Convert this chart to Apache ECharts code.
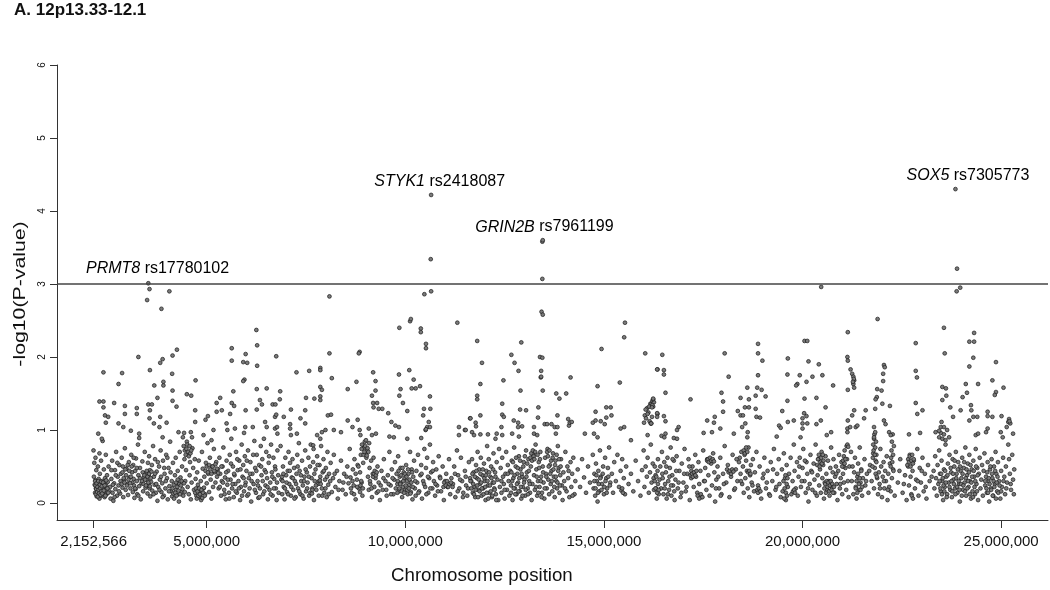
<!DOCTYPE html>
<html>
<head>
<meta charset="utf-8" />
<title>12p13.33-12.1</title>
<script src="https://cdn.jsdelivr.net/npm/echarts@6/dist/echarts.min.js"></script>
<style>
  html, body { margin: 0; padding: 0; background: #fff; }
  #main { width: 1050px; height: 590px; }
</style>
</head>
<body>
<div id="main"></div>
<script>
// positions in Mb, values are -log10(P)
var xTicks = [2.152566, 5, 10, 15, 20, 25];
var yTicks = [0, 1, 2, 3, 4, 5, 6];
var threshold = 3;

// named hits
var hits = [
  { gene: 'PRMT8', snp: 'rs17780102', pos: 1.96, y: 3.21 },
  { gene: 'STYK1', snp: 'rs2418087', pos: 9.22, y: 4.40 },
  { gene: 'GRIN2B', snp: 'rs7961199', pos: 11.76, y: 3.78 },
  { gene: 'SOX5', snp: 'rs7305773', pos: 22.62, y: 4.49 }
];

// top points near the hits
var peaks = [[3.53,3.01],[3.56,2.93],[4.06,2.90],[3.50,2.78],[3.86,2.66],
  [10.65,4.22],[10.64,3.34],[10.65,2.90],[10.48,2.86],[8.09,2.83],[10.14,2.52],
  [13.45,3.58],[13.46,3.60],[13.45,3.07],[13.43,2.62],[13.46,2.58],
  [23.85,4.30],[23.89,3.21],[23.97,2.95],[23.88,2.90],[20.47,2.96],[21.89,2.52]];

// upper scatter (about 0.85 to 2.4)
var upper1 = [[6.25,2.37],[6.27,2.16],[6.27,1.88],[4.25,2.10],[4.14,2.02],[3.89,1.97],[3.83,1.92],[3.28,2.00],[3.57,1.82],[4.13,1.77],[2.40,1.79],[2.87,1.78],[2.78,1.63],[5.63,2.12],[5.63,1.95],[5.98,2.04],[5.92,1.93],[6.02,1.92],[6.75,2.01],[5.95,1.69],[5.92,1.67],[4.72,1.68],[3.91,1.66],[3.91,1.61],[3.68,1.61],[4.14,1.54],[4.50,1.49],[4.61,1.47],[6.51,1.57],[6.26,1.56],[5.67,1.53],[2.30,1.39],[2.40,1.39],[2.40,1.31],[2.67,1.37],[2.94,1.33],[3.24,1.30],[3.53,1.35],[3.62,1.35],[3.76,1.44],[4.14,1.40],[4.24,1.32],[5.34,1.44],[5.25,1.37],[5.63,1.37],[5.69,1.33],[6.34,1.41],[6.39,1.35],[6.66,1.35],[2.44,1.20],[2.46,1.10],[2.52,1.18],[2.94,1.22],[3.24,1.22],[3.57,1.27],[3.56,1.16],[3.83,1.18],[4.71,1.27],[4.71,1.11],[5.03,1.19],[4.97,1.14],[5.25,1.25],[5.38,1.27],[5.59,1.22],[5.98,1.27],[6.26,1.28],[6.47,1.11],[6.72,1.18],[2.78,1.09],[2.90,1.04],[2.27,0.95],[2.36,0.88],[3.09,0.99],[3.30,0.95],[3.30,0.89],[3.67,1.09],[3.81,1.04],[3.99,1.10],[3.89,0.90],[4.29,0.97],[4.43,0.96],[4.60,0.97],[4.63,0.90],[4.92,0.93],[5.17,1.00],[5.12,0.86],[5.50,1.09],[5.52,1.00],[5.71,1.02],[5.97,1.04],[5.94,0.96],[6.16,1.04],[6.51,1.04],[6.72,1.02]];
var upper2 = [[10.12,2.49],[9.85,2.40],[10.39,2.39],[10.39,2.34],[11.31,2.47],[10.52,2.18],[10.52,2.12],[8.85,2.07],[8.83,2.05],[8.09,2.05],[7.86,1.85],[7.86,1.82],[7.58,1.81],[7.26,1.79],[8.15,1.71],[9.19,1.79],[9.25,1.67],[10.1,1.82],[9.84,1.76],[10.21,1.69],[8.77,1.66],[7.86,1.59],[7.9,1.55],[8.55,1.56],[9.25,1.54],[10.16,1.57],[10.26,1.57],[10.37,1.60],[9.88,1.56],[9.85,1.47],[10.62,1.46],[6.85,1.53],[6.84,1.42],[6.73,1.35],[7.5,1.44],[7.71,1.43],[7.86,1.46],[7.86,1.41],[9.16,1.47],[9.19,1.37],[9.29,1.37],[9.2,1.31],[9.33,1.29],[9.42,1.29],[9.94,1.37],[6.75,1.21],[6.94,1.18],[7.12,1.28],[7.48,1.27],[7.36,1.16],[7.48,1.09],[8.05,1.2],[8.13,1.21],[8.55,1.13],[8.8,1.14],[8.67,1.04],[9.57,1.23],[10.05,1.26],[10.47,1.29],[10.63,1.29],[10.45,1.2],[9.65,1.11],[9.75,1.06],[9.84,1.04],[10.59,1.11],[10.55,1.04],[10.62,1.04],[10.51,1.0],[10.52,1.01],[11.63,1.16],[11.35,1.04],[11.5,1.0],[11.35,0.93],[6.77,1.04],[6.78,0.95],[7.1,1.08],[7.1,1.02],[7.12,0.93],[7.27,0.95],[7.78,0.93],[7.86,0.88],[7.9,0.97],[7.99,1.0],[8.2,1.0],[8.38,0.97],[8.85,1.0],[8.87,0.93],[9.08,1.02],[9.16,0.93],[9.26,0.95],[9.6,0.91],[9.71,0.9],[10.05,0.88],[10.4,0.89]];
var upper3 = [[15.53,2.47],[15.51,2.27],[11.81,2.22],[12.92,2.2],[14.94,2.11],[16.04,2.05],[12.67,2.03],[13.39,2.0],[13.45,1.99],[11.93,1.92],[12.75,1.92],[12.85,1.81],[13.42,1.81],[13.41,1.72],[13.42,1.73],[12.47,1.68],[14.16,1.72],[16.35,1.83],[11.89,1.63],[12.9,1.54],[13.46,1.54],[14.84,1.6],[15.4,1.65],[13.8,1.5],[14.05,1.5],[13.88,1.43],[11.81,1.47],[11.81,1.42],[12.44,1.36],[16.05,1.28],[16.14,1.32],[16.22,1.34],[16.24,1.42],[16.1,1.22],[16.35,1.22],[12.89,1.28],[13.04,1.27],[13.35,1.31],[14.79,1.25],[15.06,1.31],[15.17,1.31],[15.19,1.2],[11.64,1.16],[11.77,1.1],[11.78,1.05],[11.89,1.2],[12.44,1.21],[12.48,1.18],[12.42,1.04],[12.73,1.13],[12.84,1.1],[12.94,1.05],[12.84,1.04],[13.34,1.17],[13.24,1.04],[13.51,1.08],[13.57,1.08],[13.68,1.08],[13.76,1.04],[13.83,1.04],[13.83,1.2],[14.1,1.15],[14.19,1.11],[14.72,1.1],[14.79,1.13],[14.92,1.12],[15.02,1.08],[15.06,1.17],[15.51,1.04],[15.42,1.02],[16.18,1.09],[11.52,1.0],[11.68,0.97],[11.73,0.93],[11.89,0.94],[12.08,0.94],[12.27,0.88],[12.44,0.93],[12.3,0.95],[12.69,0.95],[12.86,0.91],[13.24,0.95],[13.32,0.93],[13.79,0.95],[14.52,0.95],[14.75,0.95],[14.84,0.9],[15.68,0.86],[16.1,0.93]];
var upper4 = [[21.14,2.34],[20.05,2.22],[20.12,2.22],[16.47,2.03],[18.88,2.18],[18.04,2.05],[18.88,2.05],[18.99,1.95],[19.63,1.98],[21.13,2.0],[21.14,1.95],[16.34,1.83],[16.51,1.82],[16.51,1.76],[20.15,1.94],[20.41,1.9],[18.14,1.73],[19.62,1.76],[19.93,1.75],[20.25,1.73],[18.88,1.75],[20.1,1.66],[19.87,1.63],[19.84,1.61],[20.5,1.75],[20.77,1.61],[18.61,1.58],[18.86,1.58],[18.97,1.55],[17.96,1.51],[16.55,1.51],[21.14,1.55],[17.18,1.42],[18.44,1.44],[18.65,1.42],[18.82,1.47],[19.07,1.46],[19.62,1.4],[20.05,1.43],[20.35,1.44],[16.24,1.43],[16.21,1.31],[18.0,1.39],[18.55,1.31],[18.65,1.31],[18.37,1.26],[18.44,1.2],[18.5,1.2],[18.0,1.25],[18.82,1.29],[18.84,1.18],[18.93,1.17],[19.49,1.26],[20.58,1.31],[20.04,1.23],[20.0,1.16],[20.1,1.19],[20.0,1.09],[20.12,1.09],[16.34,1.23],[16.34,1.18],[16.51,1.19],[16.55,1.12],[16.19,1.09],[16.88,1.04],[16.84,1.0],[17.6,1.13],[17.79,1.18],[17.77,1.1],[17.93,1.02],[18.48,1.04],[18.56,1.09],[19.41,1.06],[19.45,1.03],[19.63,1.11],[19.78,1.13],[20.35,1.08],[20.46,1.13],[21.14,1.13],[21.13,1.02],[20.72,0.97],[20.61,0.93],[16.55,0.95],[16.52,0.9],[16.76,0.89],[16.84,0.88],[17.51,0.96],[17.72,0.97],[18.27,0.95],[18.62,0.97],[18.61,0.9],[19.35,0.91],[19.95,0.9],[20.0,1.02]];
var upper5 = [[23.56,2.4],[24.32,2.33],[24.2,2.21],[24.32,2.21],[22.85,2.19],[23.58,2.05],[24.87,1.93],[24.3,1.99],[24.2,1.87],[22.05,1.89],[22.07,1.86],[22.85,1.81],[22.88,1.72],[21.21,1.83],[21.25,1.77],[21.28,1.73],[21.3,1.68],[21.28,1.63],[21.3,1.58],[21.29,1.70],[21.27,1.66],[22.03,1.77],[22.03,1.67],[23.52,1.59],[23.61,1.57],[24.11,1.63],[24.42,1.63],[24.78,1.68],[25.06,1.58],[21.88,1.56],[21.99,1.54],[24.14,1.51],[24.03,1.45],[24.87,1.52],[24.84,1.48],[23.62,1.47],[23.52,1.41],[21.87,1.45],[21.84,1.42],[21.83,1.29],[22.2,1.33],[22.01,1.36],[21.3,1.27],[21.25,1.2],[22.85,1.37],[23.02,1.27],[22.89,1.22],[23.72,1.31],[24.24,1.34],[24.25,1.27],[24.2,1.13],[24.3,1.18],[24.4,1.18],[24.66,1.25],[24.78,1.18],[24.66,1.19],[25.01,1.19],[25.2,1.15],[25.18,1.11],[25.23,1.09],[25.21,1.12],[22.05,1.13],[22.09,1.08],[21.59,1.27],[21.55,1.16],[21.13,0.97],[21.2,1.04],[21.34,1.04],[21.38,1.06],[21.8,1.04],[21.83,0.97],[21.8,0.9],[22.18,0.97],[22.22,0.93],[22.68,0.94],[22.96,0.96],[23.5,1.11],[23.48,1.04],[23.44,0.99],[23.56,1.04],[23.69,0.9],[23.35,0.97],[23.79,1.18],[23.98,1.27],[24.66,1.02],[24.62,0.97],[24.36,0.93],[24.42,0.95],[24.99,0.97],[25.04,0.9],[25.14,1.04],[25.3,0.95]];

// dense band (below about 0.85)
var band1 = [[2.15,0.72],[2.16,0.36],[2.17,0.55],[2.18,0.25],[2.19,0.14],[2.2,0.31],[2.2,0.62],[2.21,0.2],[2.22,0.45],[2.23,0.09],[2.24,0.28],[2.25,0.17],[2.26,0.5],[2.27,0.12],[2.28,0.33],[2.29,0.22],[2.3,0.68],[2.3,0.06],
  [2.31,0.4],[2.32,0.15],[2.33,0.26],[2.34,0.58],[2.35,0.19],[2.36,0.1],[2.37,0.3],[2.38,0.85],[2.39,0.21],[2.4,0.14],[2.41,0.46],[2.42,0.26],[2.43,0.08],[2.44,0.34],[2.45,0.18],[2.46,0.66],[2.47,0.24],[2.48,0.12],[2.49,0.38],
  [2.51,0.29],[2.53,0.5],[2.55,0.16],[2.57,0.22],[2.58,0.06],[2.6,0.33],[2.62,0.58],[2.63,0.14],[2.65,0.03],[2.67,0.27],[2.69,0.45],[2.7,0.19],[2.72,0.7],[2.74,0.1],[2.76,0.36],[2.78,0.24],[2.8,0.52],
  [2.82,0.13],[2.84,0.4],[2.86,0.62],[2.88,0.21],[2.9,0.08],[2.92,0.32],[2.94,0.75],[2.96,0.18],[2.98,0.47],[3.0,0.26],[3.02,0.11],[3.04,0.56],[3.06,0.35],[3.08,0.2],[3.1,0.66],
  [3.12,0.42],[3.13,0.28],[3.14,0.15],[3.15,0.52],[3.16,0.33],[3.17,0.24],[3.18,0.07],[3.2,0.44],[3.21,0.19],[3.22,0.61],[3.24,0.3],[3.25,0.12],[3.27,0.8],[3.28,0.38],[3.3,0.23],[3.32,0.48],[3.34,0.05],[3.36,0.27],[3.38,0.57],[3.4,0.16],[3.42,0.35],[3.44,0.7],[3.46,0.21],[3.48,0.42],
  [3.5,0.31],[3.51,0.13],[3.52,0.55],[3.53,0.24],[3.54,0.38],[3.55,0.64],[3.56,0.2],[3.57,0.45],[3.58,0.09],[3.6,0.29],[3.62,0.52],[3.63,0.17],[3.65,0.78],[3.67,0.36],[3.69,0.25],[3.7,0.6],[3.72,0.14],[3.74,0.43],[3.76,0.03],[3.78,0.22],
  [3.8,0.5],[3.82,0.32],[3.84,0.72],[3.86,0.15],[3.88,0.27],[3.9,0.58],[3.92,0.1],[3.94,0.4],[3.96,0.2],[3.98,0.66],[4.0,0.34],[4.02,0.05],[4.04,0.48],[4.06,0.23],[4.08,0.84],
  [4.1,0.16],[4.12,0.3],[4.13,0.09],[4.14,0.2],[4.15,0.55],[4.16,0.13],[4.17,0.25],[4.18,0.06],[4.2,0.38],[4.22,0.62],[4.23,0.18],[4.25,0.11],[4.27,0.44],[4.28,0.27],[4.3,0.02],[4.32,0.7],[4.34,0.35],[4.36,0.15],[4.38,0.5],
  [4.4,0.9],[4.42,0.78],[4.44,0.6],[4.45,0.72],[4.46,0.3],[4.48,0.45],[4.5,0.84],[4.52,0.22],[4.54,0.66],[4.55,0.12],[4.57,0.38],[4.58,0.56],[4.6,0.05],[4.62,0.28],[4.64,0.75],[4.66,0.48],[4.68,0.18],[4.7,0.6],[4.72,0.33],[4.74,0.1],[4.76,0.42],[4.78,0.25],
  [4.8,0.58],[4.82,0.16],[4.84,0.08],[4.85,0.3],[4.86,0.04],[4.88,0.7],[4.9,0.47],[4.92,0.2],[4.94,0.36],[4.96,0.12],[4.98,0.55],[5.0,0.27],[5.02,0.82],[5.04,0.4],[5.06,0.15],[5.08,0.62],[5.1,0.32],[5.12,0.06],[5.14,0.5],[5.16,0.22],[5.18,0.74],
  [5.2,0.42],[5.22,0.28],[5.24,0.56],[5.26,0.36],[5.28,0.46],[5.3,0.2],[5.32,0.62],[5.34,0.4],[5.36,0.1],[5.38,0.3],[5.4,0.5],[5.42,0.76],[5.44,0.18],[5.46,0.35],[5.48,0.05],[5.5,0.58],[5.52,0.25],[5.54,0.44],[5.56,0.14],[5.58,0.66],
  [5.6,0.32],[5.62,0.88],[5.64,0.2],[5.66,0.5],[5.68,0.08],[5.7,0.38],[5.72,0.26],[5.74,0.7],[5.76,0.14],[5.78,0.45],[5.8,0.3],[5.82,0.58],[5.84,0.04],[5.86,0.22],[5.88,0.8],[5.9,0.36],[5.92,0.52],[5.94,0.16],[5.96,0.64],[5.98,0.28],
  [6.0,0.44],[6.02,0.1],[6.04,0.72],[6.06,0.34],[6.08,0.2],[6.1,0.56],[6.12,0.02],[6.15,0.4],[6.18,0.26],[6.2,0.85],[6.22,0.48],[6.24,0.14],[6.26,0.66],[6.28,0.3],[6.3,0.07],[6.32,0.52],[6.34,0.2],[6.36,0.78],[6.38,0.38],
  [6.4,0.6],[6.42,0.12],[6.44,0.88],[6.46,0.45],[6.48,0.24],[6.5,0.7],[6.52,0.34],[6.54,0.05],[6.56,0.55],[6.58,0.18],[6.6,0.28],[6.62,0.8],[6.64,0.42],[6.66,0.1],[6.68,0.62],[6.7,0.33],[6.72,0.5],[6.74,0.2],[6.76,0.04],[6.78,0.72],[6.8,0.38]];
var band2 = [[6.86,0.78],[6.88,0.32],[6.9,0.12],[6.92,0.5],[6.94,0.22],[6.96,0.05],[6.98,0.62],[7.0,0.38],[7.02,0.15],[7.04,0.44],[7.06,0.7],[7.08,0.26],[7.1,0.55],[7.12,0.1],[7.14,0.35],[7.16,0.6],[7.18,0.18],[7.2,0.48],[7.22,0.3],[7.24,0.08],[7.26,0.4],[7.28,0.66],
  [7.3,0.2],[7.32,0.82],[7.34,0.44],[7.36,0.12],[7.38,0.3],[7.4,0.58],[7.42,0.24],[7.44,0.06],[7.46,0.36],[7.48,0.72],[7.5,0.16],[7.52,0.42],[7.54,0.28],[7.56,0.62],[7.58,0.1],[7.6,0.5],[7.62,0.8],[7.64,0.34],[7.66,0.2],[7.68,0.56],
  [7.7,0.04],[7.72,0.3],[7.74,0.46],[7.76,0.18],[7.78,0.64],[7.8,0.26],[7.82,0.1],[7.84,0.52],[7.86,0.36],[7.88,0.78],[7.9,0.2],[7.92,0.42],[7.94,0.6],[7.96,0.14],[7.98,0.32],[8.0,0.48],[8.02,0.08],[8.04,0.7],[8.06,0.25],[8.08,0.4],
  [8.12,0.55],[8.15,0.15],[8.18,0.34],[8.2,0.66],[8.24,0.22],[8.28,0.44],[8.3,0.06],[8.34,0.3],[8.38,0.58],[8.42,0.18],[8.46,0.4],[8.5,0.12],[8.54,0.5],[8.57,0.27],
  [8.6,0.74],[8.62,0.35],[8.65,0.14],[8.68,0.46],[8.7,0.24],[8.72,0.6],[8.75,0.05],[8.78,0.32],[8.8,0.52],[8.83,0.2],[8.86,0.42],[8.88,0.66],[8.9,0.28],[8.92,0.1],[8.94,0.55],[8.96,0.76],[8.98,0.84],[9.0,0.68],[9.02,0.62],[9.04,0.72],[9.06,0.36],[9.08,0.18],[9.1,0.48],[9.12,0.26],[9.14,0.58],[9.16,0.08],[9.18,0.4],
  [9.2,0.62],[9.22,0.22],[9.25,0.34],[9.28,0.14],[9.3,0.5],[9.33,0.28],[9.36,0.04],[9.4,0.44],[9.43,0.18],[9.46,0.6],[9.5,0.3],[9.53,0.1],[9.56,0.38],[9.6,0.7],[9.63,0.24],[9.66,0.46],
  [9.7,0.12],[9.72,0.32],[9.74,0.56],[9.76,0.2],[9.78,0.4],[9.8,0.26],[9.82,0.64],[9.84,0.16],[9.86,0.36],[9.88,0.48],[9.9,0.28],[9.92,0.08],[9.94,0.22],[9.96,0.42],[9.98,0.34],[10.0,0.18],[10.02,0.52],[10.04,0.3],[10.06,0.12],[10.08,0.4],[10.1,0.25],[10.12,0.7],[10.14,0.15],[10.16,0.46],[10.18,0.05],
  [10.2,0.36],[10.22,0.58],[10.24,0.2],[10.26,0.1],[10.28,0.44],[10.3,0.28],[10.32,0.66],[10.35,0.16],[10.38,0.38],[10.4,0.52],[10.42,0.06],[10.45,0.3],[10.48,0.74],[10.5,0.22],[10.52,0.48],[10.55,0.62],[10.58,0.14],[10.6,0.34],[10.62,0.8],[10.65,0.42],[10.68,0.2],
  [10.7,0.56],[10.72,0.3],[10.75,0.1],[10.78,0.46],[10.8,0.24],[10.84,0.64],[10.87,0.36],[10.9,0.16],[10.94,0.5],[10.97,0.04],[11.0,0.3],[11.03,0.4],[11.06,0.22],[11.1,0.6],[11.13,0.12],[11.16,0.34],
  [11.2,0.26],[11.23,0.5],[11.26,0.08],[11.3,0.72],[11.33,0.38],[11.36,0.2],[11.4,0.62],[11.43,0.3],[11.46,0.14],[11.5,0.44],[11.53,0.24],[11.56,0.1],[11.6,0.56],[11.63,0.34]];
var band3 = [[11.66,0.3],[11.68,0.6],[11.7,0.14],[11.72,0.42],[11.74,0.22],[11.76,0.08],[11.78,0.52],[11.8,0.34],[11.82,0.7],[11.84,0.18],[11.86,0.46],[11.88,0.26],[11.9,0.62],[11.92,0.1],[11.94,0.38],[11.96,0.2],[11.98,0.54],
  [12.0,0.3],[12.02,0.04],[12.04,0.44],[12.06,0.78],[12.08,0.24],[12.1,0.6],[12.12,0.14],[12.14,0.36],[12.16,0.5],[12.18,0.08],[12.2,0.28],[12.22,0.68],[12.24,0.2],[12.26,0.42],[12.28,0.12],[12.3,0.56],[12.32,0.32],[12.34,0.04],[12.36,0.74],[12.38,0.22],
  [12.4,0.48],[12.42,0.14],[12.44,0.62],[12.46,0.36],[12.48,0.26],[12.5,0.06],[12.52,0.4],[12.54,0.7],[12.56,0.18],[12.58,0.52],[12.6,0.3],[12.62,0.1],[12.64,0.44],[12.66,0.24],[12.68,0.58],[12.7,0.04],[12.72,0.34],[12.74,0.76],[12.76,0.2],[12.78,0.5],
  [12.8,0.12],[12.82,0.4],[12.84,0.28],[12.86,0.64],[12.88,0.16],[12.9,0.46],[12.92,0.06],[12.94,0.36],[12.96,0.22],[12.98,0.56],[13.0,0.32],[13.02,0.1],[13.04,0.72],[13.06,0.42],[13.08,0.2],[13.1,0.6],[13.12,0.3],[13.14,0.14],[13.16,0.5],[13.18,0.04],
  [13.2,0.26],[13.22,0.66],[13.24,0.38],[13.26,0.18],[13.28,0.8],[13.3,0.46],[13.32,0.1],[13.34,0.3],[13.36,0.56],[13.38,0.22],[13.4,0.7],[13.42,0.36],[13.44,0.14],[13.46,0.5],[13.48,0.28],[13.5,0.06],[13.52,0.62],[13.54,0.4],[13.56,0.2],[13.58,0.74],
  [13.6,0.32],[13.62,0.12],[13.64,0.52],[13.66,0.26],[13.68,0.44],[13.7,0.16],[13.72,0.68],[13.74,0.36],[13.76,0.08],[13.78,0.58],[13.8,0.3],[13.82,0.2],[13.84,0.78],[13.86,0.48],[13.88,0.14],[13.9,0.38],[13.92,0.6],[13.94,0.24],[13.96,0.04],[13.98,0.42],
  [14.0,0.3],[14.03,0.7],[14.06,0.16],[14.08,0.5],[14.1,0.34],[14.13,0.08],[14.16,0.56],[14.18,0.22],[14.2,0.4],[14.23,0.62],[14.26,0.12],[14.28,0.3],
  [14.34,0.46],[14.4,0.22],[14.45,0.6],[14.5,0.35],[14.55,0.14],[14.6,0.5],[14.65,0.28],
  [14.72,0.66],[14.74,0.2],[14.76,0.4],[14.78,0.1],[14.8,0.54],[14.82,0.3],[14.84,0.02],[14.86,0.44],[14.88,0.16],[14.9,0.72],[14.92,0.36],[14.95,0.26],[14.98,0.5],[15.0,0.12],[15.03,0.62],[15.06,0.34],[15.08,0.2],
  [15.1,0.48],[15.13,0.76],[15.16,0.28],[15.2,0.4],[15.23,0.14],[15.26,0.56],[15.3,0.3],[15.34,0.66],[15.38,0.22],[15.42,0.44],[15.46,0.6],[15.5,0.34],[15.53,0.12],[15.56,0.5],
  [15.62,0.26],[15.68,0.4],[15.74,0.16],[15.8,0.58],[15.86,0.3],[15.92,0.1],[15.96,0.45],
  [16.0,0.72],[16.02,0.22],[16.05,0.5],[16.08,0.36],[16.1,0.62],[16.13,0.14],[16.16,0.42],[16.18,0.8],[16.2,0.28],[16.23,0.54],[16.26,0.18],[16.3,0.38],[16.33,0.06],[16.36,0.6],[16.4,0.32]];
var band4 = [[16.42,0.5],[16.44,0.2],[16.46,0.7],[16.48,0.34],[16.5,0.12],[16.52,0.56],[16.54,0.26],[16.56,0.42],[16.58,0.06],[16.6,0.62],[16.62,0.3],[16.64,0.18],[16.66,0.48],[16.68,0.76],[16.7,0.1],[16.72,0.38],[16.74,0.24],[16.76,0.58],[16.78,0.04],
  [16.8,0.32],[16.83,0.64],[16.86,0.2],[16.9,0.44],[16.93,0.08],[16.96,0.54],[17.0,0.28],[17.03,0.74],[17.06,0.16],[17.1,0.4],[17.13,0.6],[17.16,0.04],[17.2,0.34],[17.23,0.5],[17.26,0.22],
  [17.3,0.66],[17.32,0.36],[17.35,0.14],[17.38,0.56],[17.4,0.26],[17.43,0.44],[17.46,0.08],[17.5,0.72],[17.52,0.3],[17.55,0.48],[17.58,0.18],[17.6,0.6],[17.63,0.38],[17.66,0.1],[17.7,0.54],[17.72,0.24],[17.75,0.68],[17.78,0.42],[17.8,0.02],[17.83,0.32],[17.86,0.5],
  [17.9,0.2],[17.93,0.62],[17.96,0.12],[18.0,0.4],[18.04,0.78],[18.08,0.28],[18.12,0.52],[18.16,0.08],[18.2,0.36],[18.24,0.66],[18.28,0.18],[18.32,0.46],[18.36,0.3],
  [18.4,0.56],[18.42,0.62],[18.44,0.4],[18.46,0.7],[18.48,0.26],[18.5,0.5],[18.52,0.14],[18.54,0.66],[18.56,0.34],[18.58,0.58],[18.6,0.44],[18.62,0.2],[18.64,0.76],[18.66,0.08],[18.68,0.38],[18.7,0.52],[18.72,0.28],[18.75,0.6],[18.78,0.16],
  [18.8,0.42],[18.84,0.7],[18.88,0.24],[18.92,0.5],[18.96,0.06],[19.0,0.34],[19.04,0.62],[19.08,0.2],[19.12,0.44],[19.16,0.12],[19.2,0.56],[19.24,0.3],[19.28,0.74],[19.32,0.18],[19.36,0.4],
  [19.4,0.6],[19.42,0.26],[19.45,0.08],[19.48,0.46],[19.5,0.16],[19.53,0.68],[19.56,0.34],[19.58,0.04],[19.6,0.52],[19.63,0.22],[19.66,0.4],[19.7,0.62],[19.72,0.12],[19.75,0.3],[19.78,0.8],[19.8,0.44],[19.83,0.2],[19.86,0.56],[19.88,0.1],
  [19.9,0.36],[19.93,0.62],[19.96,0.22],[20.0,0.48],[20.02,0.74],[20.05,0.3],[20.08,0.14],[20.1,0.56],[20.12,0.4],[20.15,0.02],[20.18,0.26],[20.2,0.66],[20.22,0.44],[20.25,0.18],[20.28,0.54],[20.3,0.32],[20.33,0.8],[20.36,0.1],[20.38,0.38],
  [20.4,0.6],[20.42,0.24],[20.44,0.46],[20.46,0.14],[20.48,0.7],[20.5,0.34],[20.52,0.52],[20.54,0.06],[20.56,0.28],[20.58,0.64],[20.6,0.4],[20.62,0.18],[20.64,0.58],[20.66,0.3],[20.68,0.1],[20.7,0.48],[20.72,0.76],[20.74,0.22],[20.76,0.42],[20.78,0.6],[20.8,0.14],[20.82,0.36],[20.84,0.5],[20.86,0.26],[20.88,0.04],
  [20.9,0.44],[20.92,0.66],[20.94,0.2],[20.96,0.34],[20.98,0.56],[21.0,0.12],[21.02,0.4],[21.04,0.28],[21.06,0.72],[21.08,0.48],[21.1,0.18],[21.12,0.6],[21.14,0.3],[21.16,0.08],[21.18,0.5]];
var band5 = [[21.22,0.7],[21.24,0.3],[21.26,0.5],[21.28,0.12],[21.3,0.42],[21.32,0.62],[21.34,0.22],[21.36,0.06],[21.38,0.36],[21.4,0.54],[21.42,0.18],[21.44,0.76],[21.46,0.28],[21.48,0.46],[21.5,0.1],[21.52,0.34],
  [21.56,0.6],[21.58,0.24],[21.62,0.4],[21.66,0.14],[21.7,0.52],[21.74,0.3],[21.78,0.68],
  [21.8,0.2],[21.82,0.48],[21.84,0.58],[21.86,0.66],[21.88,0.34],[21.9,0.12],[21.92,0.42],[21.94,0.26],[21.96,0.74],[21.98,0.5],[22.0,0.08],[22.02,0.36],[22.04,0.56],[22.06,0.2],[22.08,0.44],[22.1,0.3],[22.12,0.64],[22.14,0.04],[22.16,0.4],[22.18,0.22],[22.2,0.54],[22.22,0.16],[22.25,0.34],[22.28,0.46],[22.32,0.1],
  [22.4,0.28],[22.46,0.6],[22.52,0.14],[22.58,0.38],[22.62,0.04],
  [22.66,0.5],[22.68,0.24],[22.7,0.66],[22.72,0.36],[22.74,0.12],[22.77,0.44],[22.8,0.58],[22.83,0.2],[22.86,0.32],[22.89,0.74],[22.92,0.1],[22.95,0.48],[22.98,0.28],[23.02,0.62],[23.05,0.16],[23.08,0.4],[23.12,0.06],[23.16,0.52],[23.2,0.3],
  [23.3,0.44],[23.32,0.2],[23.34,0.64],[23.36,0.34],[23.38,0.1],[23.4,0.52],[23.42,0.26],[23.44,0.72],[23.46,0.4],[23.48,0.16],[23.5,0.58],[23.52,0.3],[23.54,0.04],[23.56,0.46],[23.58,0.22],[23.6,0.8],[23.62,0.36],[23.64,0.12],[23.66,0.54],[23.68,0.28],[23.7,0.66],[23.72,0.18],[23.74,0.42],[23.76,0.08],[23.78,0.6],
  [23.8,0.32],[23.82,0.5],[23.84,0.2],[23.86,0.7],[23.88,0.4],[23.9,0.14],[23.92,0.56],[23.94,0.26],[23.96,0.02],[23.98,0.44],[24.0,0.34],[24.02,0.62],[24.04,0.18],[24.06,0.48],[24.08,0.28],[24.1,0.76],[24.12,0.1],[24.14,0.38],[24.16,0.54],[24.18,0.22],[24.2,0.66],[24.22,0.3],[24.24,0.06],[24.26,0.46],[24.28,0.16],
  [24.3,0.58],[24.32,0.36],[24.34,0.12],[24.36,0.74],[24.38,0.26],[24.4,0.48],[24.42,0.04],[24.44,0.4],[24.46,0.62],[24.48,0.2],[24.5,0.32],[24.52,0.52],[24.54,0.1],[24.56,0.44],[24.58,0.68],[24.6,0.24],[24.62,0.36],[24.64,0.14],[24.66,0.56],[24.68,0.3],[24.7,0.02],[24.72,0.46],[24.74,0.2],[24.76,0.6],[24.78,0.34],
  [24.8,0.1],[24.82,0.5],[24.84,0.26],[24.86,0.7],[24.88,0.4],[24.9,0.16],[24.92,0.56],[24.95,0.3],[24.98,0.06],[25.0,0.44],[25.02,0.22],[25.05,0.62],[25.08,0.36],[25.1,0.12],[25.12,0.5],[25.15,0.28],[25.18,0.8],[25.2,0.6],[25.22,0.4],[25.25,0.18],[25.28,0.66],[25.3,0.32],[25.33,0.46]];

// the dark clusters in the band
var low1 = [[2.19,0.3],[2.2,0.24],[2.21,0.12],[2.22,0.19],[2.23,0.27],[2.24,0.15],[2.25,0.22],[2.26,0.09],[2.27,0.3],[2.28,0.18],[2.29,0.13],[2.31,0.25],[2.32,0.2],[2.33,0.11],[2.34,0.29],[2.35,0.16],[2.36,0.23],[2.37,0.13],[2.39,0.28],[2.41,0.17],[2.43,0.24],[2.45,0.1],[2.47,0.31],[2.5,0.2],[2.52,0.14],
  [2.6,0.45],[2.64,0.25],[2.68,0.08],[2.71,0.38],[2.75,0.55],[2.79,0.16],[2.83,0.3],
  [2.86,0.26],[2.88,0.42],[2.89,0.5],[2.91,0.34],[2.93,0.28],[2.95,0.46],[2.97,0.38],[2.99,0.24],[3.01,0.52],[3.03,0.32],[3.05,0.44],[3.07,0.27],[3.09,0.36],[3.11,0.5],
  [3.16,0.62],[3.2,0.2],[3.24,0.48],[3.28,0.1],[3.32,0.34],
  [3.37,0.3],[3.39,0.42],[3.41,0.26],[3.43,0.38],[3.45,0.32],[3.47,0.24],[3.49,0.44],[3.51,0.36],[3.53,0.28],[3.55,0.4],[3.57,0.23],[3.59,0.34],[3.61,0.43],
  [3.66,0.12],[3.7,0.4],[3.73,0.26],[3.77,0.56],[3.81,0.18],[3.85,0.36],[3.89,0.08],[3.93,0.48],[3.97,0.3],[4.01,0.62],[4.05,0.16],[4.09,0.42],
  [4.21,0.14],[4.23,0.28],[4.24,0.1],[4.26,0.22],[4.27,0.32],[4.29,0.17],[4.31,0.26],[4.33,0.12],[4.35,0.24],[4.37,0.3],[4.39,0.19],[4.41,0.1],[4.43,0.27],[4.45,0.15],
  [4.47,0.66],[4.49,0.74],[4.51,0.8],[4.53,0.7],[4.55,0.64],[4.57,0.78],[4.59,0.68],[4.61,0.72],
  [4.71,0.14],[4.73,0.2],[4.75,0.06],[4.77,0.16],[4.79,0.1],[4.81,0.2],[4.83,0.12],[4.87,0.18],[4.89,0.07],[4.91,0.14],[4.93,0.21],[4.95,0.1],
  [4.97,0.44],[5.0,0.5],[5.03,0.42],[5.06,0.52],[5.09,0.46],[5.12,0.4],[5.15,0.5],[5.19,0.44],[5.22,0.53],[5.26,0.47],[5.29,0.41],
  [5.33,0.22],[5.37,0.5],[5.41,0.28],[5.45,0.12],[5.49,0.42],[5.53,0.32],[5.57,0.06],[5.61,0.54],[5.65,0.26],[5.69,0.4],[5.73,0.16],[5.77,0.6],[5.81,0.2],[5.85,0.46],[5.89,0.1],[5.93,0.34],[5.97,0.24],[6.01,0.58],[6.05,0.12],[6.09,0.4],[6.13,0.3],[6.17,0.66],[6.21,0.18],[6.25,0.44],[6.29,0.24],[6.33,0.08],[6.37,0.5],[6.41,0.3],[6.45,0.16],[6.49,0.42],[6.53,0.22],[6.57,0.64],[6.61,0.12],[6.65,0.36],[6.69,0.2],[6.73,0.46],[6.77,0.28],[6.81,0.14]];
var low2 = [[6.9,0.36],[6.91,0.3],[6.93,0.4],[6.97,0.2],[7.01,0.28],[7.05,0.12],[7.09,0.44],[7.13,0.22],[7.17,0.34],[7.21,0.06],[7.25,0.26],[7.29,0.5],[7.33,0.16],[7.37,0.38],[7.41,0.1],[7.45,0.3],[7.49,0.46],[7.53,0.2],[7.57,0.36],[7.61,0.14],[7.65,0.13],[7.66,0.18],[7.68,0.79],[7.69,0.74],[7.71,0.4],[7.75,0.24],[7.79,0.52],[7.83,0.3],[7.85,0.31],[7.87,0.26],[7.91,0.1],[7.95,0.44],[7.99,0.2],[8.03,0.36],[8.07,0.12],[8.11,0.3],[8.22,0.4],[8.32,0.18],[8.44,0.28],[8.52,0.36],[8.63,0.2],[8.67,0.3],[8.71,0.12],[8.75,0.4],[8.79,0.22],[8.82,0.5],[8.86,0.15],[8.87,0.24],[8.89,0.3],[8.9,0.74],[8.91,0.8],[8.93,0.2],[8.95,0.66],[8.97,0.7],[8.99,0.78],[9.01,0.86],[9.03,0.65],[9.05,0.75],[9.07,0.7],[9.09,0.82],[9.11,0.3],[9.15,0.2],[9.19,0.36],[9.21,0.4],[9.23,0.44],[9.26,0.38],[9.28,0.42],[9.32,0.16],[9.38,0.24],[9.45,0.34],[9.52,0.18],[9.58,0.26],[9.64,0.12],[9.68,0.34],[9.8,0.14],[9.81,0.3],[9.83,0.44],[9.85,0.2],[9.87,0.26],[9.89,0.38],[9.91,0.16],[9.93,0.48],[9.95,0.3],[9.97,0.14],[9.99,0.4],[10.01,0.24],[10.03,0.36],[10.05,0.18],[10.07,0.46],[10.09,0.2],[10.11,0.32],[10.13,0.13],[10.15,0.28],[10.17,0.42],[10.19,0.22],[10.25,0.3],[10.33,0.14],[10.41,0.4],[10.47,0.26],[10.53,0.12],[10.57,0.36],[10.63,0.2],[10.69,0.44],[10.76,0.26],[10.82,0.16],[10.88,0.34],[10.96,0.22],[10.98,0.28],[11.02,0.24],[11.05,0.3],[11.08,0.22],[11.11,0.26],[11.15,0.28],[11.19,0.22],[11.25,0.4],[11.32,0.16],[11.38,0.32],[11.45,0.08],[11.52,0.36],[11.58,0.2]];
var low3 = [[11.64,0.3],[11.66,0.2],[11.69,0.4],[11.71,0.26],[11.73,0.12],[11.75,0.36],[11.77,0.18],[11.79,0.44],[11.81,0.24],[11.83,0.08],[11.85,0.32],[11.87,0.16],[11.89,0.4],[11.91,0.28],[11.93,0.2],[11.95,0.46],[11.97,0.12],[11.99,0.34],[12.01,0.22],[12.03,0.38],[12.05,0.14],[12.07,0.3],[12.09,0.06],[12.11,0.42],[12.13,0.24],[12.15,0.16],[12.17,0.34],[12.19,0.1],[12.21,0.46],[12.23,0.28],[12.25,0.18],[12.27,0.36],[12.29,0.04],[12.42,0.3],[12.5,0.18],[12.58,0.4],[12.66,0.14],[12.67,0.42],[12.69,0.3],[12.71,0.56],[12.73,0.2],[12.75,0.38],[12.77,0.12],[12.79,0.62],[12.81,0.26],[12.83,0.48],[12.85,0.16],[12.87,0.34],[12.89,0.58],[12.91,0.22],[12.93,0.4],[12.95,0.1],[12.97,0.5],[12.99,0.28],[13.01,0.64],[13.03,0.18],[13.05,0.36],[13.07,0.54],[13.09,0.12],[13.11,0.44],[13.13,0.26],[13.15,0.62],[13.17,0.68],[13.19,0.58],[13.21,0.72],[13.23,0.64],[13.25,0.6],[13.27,0.7],[13.29,0.22],[13.31,0.36],[13.33,0.66],[13.35,0.14],[13.37,0.48],[13.39,0.6],[13.41,0.3],[13.43,0.08],[13.47,0.42],[13.51,0.2],[13.55,0.36],[13.57,0.7],[13.59,0.64],[13.61,0.5],[13.63,0.72],[13.65,0.4],[13.67,0.58],[13.69,0.3],[13.71,0.62],[13.73,0.46],[13.75,0.22],[13.77,0.52],[13.79,0.36],[13.81,0.66],[13.83,0.28],[13.85,0.44],[13.87,0.6],[13.89,0.24],[13.91,0.5],[14.12,1.06],[14.14,1.1],[14.02,0.2],[14.11,0.44],[14.21,0.1],[14.76,0.3],[14.79,0.2],[14.81,0.38],[14.85,0.14],[14.87,0.26],[14.91,0.34],[14.94,0.18],[14.97,0.4],[15.01,0.22],[15.04,0.3],[15.07,0.14],[15.11,0.36],[15.15,0.24],[15.44,0.17],[15.46,0.2],[15.48,0.14],[16.01,1.1],[16.03,1.2],[16.06,1.16],[16.09,1.3],[16.12,1.24],[16.15,1.12],[16.17,1.36],[16.19,1.09],[16.21,1.18],[16.25,0.34],[16.28,0.5],[16.31,0.2],[16.35,0.44],[16.38,0.12]];
var low4 = [[16.2,1.36],[16.22,1.4],[16.24,1.32],[16.26,1.38],[16.28,0.3],[16.3,0.2],[16.32,0.36],[16.34,0.14],[16.36,0.26],[16.38,0.18],[16.45,0.92],[16.47,0.4],[16.53,0.2],[16.57,0.5],[16.61,0.12],[16.65,0.36],[16.69,0.24],[16.73,0.6],[16.77,0.16],[16.82,0.44],[16.88,0.28],[16.95,0.14],[17.02,0.4],[17.08,0.22],[17.15,0.5],[17.18,0.38],[17.2,0.44],[17.22,0.4],[17.24,0.36],[17.27,0.42],[17.3,0.38],[17.33,0.44],[17.36,0.1],[17.4,0.06],[17.44,0.12],[17.48,0.08],[17.54,0.3],[17.6,0.58],[17.62,0.6],[17.64,0.56],[17.67,0.62],[17.7,0.58],[17.74,0.6],[17.77,0.57],[17.82,0.2],[17.88,0.36],[17.94,0.1],[18.02,0.26],[18.1,0.46],[18.14,0.42],[18.17,0.44],[18.2,0.4],[18.23,0.46],[18.26,0.43],[18.3,0.2],[18.34,0.6],[18.45,0.3],[18.52,0.72],[18.55,0.68],[18.58,0.76],[18.61,0.7],[18.63,0.42],[18.66,0.44],[18.69,0.4],[18.74,0.24],[18.86,0.18],[18.88,0.14],[18.9,0.2],[18.94,0.16],[19.02,0.4],[19.1,0.28],[19.18,0.1],[19.26,0.46],[19.34,0.22],[19.52,0.3],[19.54,0.06],[19.55,0.2],[19.57,0.38],[19.58,0.14],[19.6,0.26],[19.61,0.1],[19.62,0.34],[19.76,0.16],[19.79,0.18],[19.81,0.14],[19.92,0.5],[19.98,0.3],[20.06,0.58],[20.14,0.2],[20.24,0.42],[20.32,0.14],[20.37,0.52],[20.39,0.6],[20.41,0.66],[20.43,0.5],[20.45,0.56],[20.47,0.62],[20.49,0.54],[20.51,0.66],[20.53,0.58],[20.55,0.2],[20.57,0.26],[20.59,0.14],[20.61,0.3],[20.63,0.22],[20.65,0.28],[20.67,0.16],[20.69,0.24],[20.71,0.3],[20.73,0.18],[20.75,0.26],[20.77,0.14],[20.79,0.22],[20.85,0.4],[20.95,0.26],[21.03,0.5],[21.11,0.78],[21.13,0.8],[21.15,0.77]];
var low5 = [[21.0,0.5],[21.02,0.58],[21.04,0.64],[21.06,0.54],[21.08,0.6],[21.34,0.2],[21.36,0.3],[21.38,0.14],[21.4,0.4],[21.42,0.26],[21.44,0.34],[21.46,0.18],[21.48,0.44],[21.5,0.22],[21.6,0.3],[21.68,0.44],[21.76,0.5],[21.77,0.62],[21.78,0.8],[21.79,0.72],[21.8,0.88],[21.81,0.94],[21.82,0.66],[21.83,0.76],[21.84,0.4],[21.85,0.84],[21.86,0.56],[21.87,0.36],[21.95,0.2],[22.05,0.3],[22.15,0.18],[22.22,0.5],[22.23,0.62],[22.24,0.72],[22.25,0.84],[22.26,0.56],[22.27,0.94],[22.28,0.66],[22.29,0.44],[22.3,0.78],[22.44,0.44],[22.55,0.26],[22.64,0.52],[22.66,0.6],[22.68,0.56],[22.7,0.64],[22.72,0.5],[22.74,0.58],[22.76,0.66],[22.78,0.54],[22.8,0.6],[22.75,0.1],[22.78,0.06],[22.9,0.3],[23.0,0.44],[23.1,0.22],[23.25,0.36],[23.44,0.9],[23.48,0.96],[23.52,0.88],[23.56,0.94],[23.6,0.86],[23.64,1.0],[23.45,0.3],[23.47,0.2],[23.49,0.4],[23.51,0.12],[23.53,0.34],[23.55,0.24],[23.57,0.16],[23.59,0.44],[23.61,0.28],[23.63,0.08],[23.65,0.38],[23.7,0.22],[23.73,0.48],[23.75,0.3],[23.77,0.16],[23.79,0.4],[23.81,0.26],[23.83,0.58],[23.85,0.12],[23.87,0.34],[23.89,0.22],[23.91,0.46],[23.93,0.3],[23.95,0.18],[23.97,0.5],[23.99,0.26],[24.01,0.1],[24.03,0.4],[24.05,0.24],[24.07,0.56],[24.09,0.16],[24.11,0.34],[24.13,0.46],[24.15,0.2],[24.17,0.3],[24.19,0.42],[24.21,0.12],[24.23,0.52],[24.25,0.28],[24.27,0.36],[24.29,0.08],[24.31,0.44],[24.33,0.22],[24.35,0.3],[24.37,0.5],[24.39,0.16],[24.41,0.38],[24.6,0.3],[24.63,0.2],[24.65,0.42],[24.67,0.14],[24.69,0.34],[24.71,0.26],[24.73,0.5],[24.75,0.18],[24.77,0.4],[24.79,0.1],[24.81,0.3],[24.83,0.22],[24.85,0.44],[24.87,0.06],[24.89,0.28],[24.91,0.36],[24.93,0.14],[24.96,0.24],[25.0,0.16],[25.06,0.3],[25.13,0.2],[25.24,0.26],[25.32,0.12]];

var FONT = 'Liberation Sans, Arial, sans-serif';
var snps = [].concat(band1, band2, band3, band4, band5, low1, low2, low3, low4, low5,
  upper1, upper2, upper3, upper4, upper5, peaks);

var chart = echarts.init(document.getElementById('main'));
var option = {
  animation: false,
  backgroundColor: '#ffffff',
  title: {
    text: 'A. 12p13.33-12.1',
    left: 14, top: 2, padding: 0,
    textStyle: { fontFamily: FONT, fontWeight: 'bold', fontSize: 17, color: '#111' }
  },
  grid: { left: 57, right: 2, top: 65, bottom: 70 },
  xAxis: {
    type: 'value', min: 1.231, max: 26.18,
    splitLine: { show: false },
    axisLine: { show: true, onZero: false, lineStyle: { color: '#333', width: 1 } },
    axisTick: { show: true, customValues: xTicks, length: 8, lineStyle: { color: '#333' } },
    axisLabel: {
      customValues: xTicks, margin: 14, color: '#111', fontFamily: FONT, fontSize: 15,
      formatter: function (v) { return Math.round(v * 1e6).toLocaleString('en-US'); }
    }
  },
  yAxis: {
    type: 'value', min: -0.233, max: 6,
    splitLine: { show: false },
    axisLine: { show: true, onZero: false, lineStyle: { color: '#333', width: 1 } },
    axisTick: { show: true, customValues: yTicks, length: 7, lineStyle: { color: '#333' } },
    axisLabel: { customValues: yTicks, rotate: 90, margin: 10, color: '#111', fontFamily: FONT, fontSize: 10 }
  },
  graphic: [
    { type: 'text', left: 391, top: 566, style: { text: 'Chromosome position', font: '18.7px ' + FONT, fill: '#111' } },
    { type: 'text', x: 20, y: 294, rotation: Math.PI / 2, scaleX: 1.25,
      style: { text: '-log10(P-value)', font: '17px ' + FONT, fill: '#111', textAlign: 'center', textVerticalAlign: 'middle' } }
  ],
  series: [
    {
      type: 'scatter',
      data: snps,
      symbolSize: 3.8,
      itemStyle: { color: '#7a7a7a', borderColor: '#1a1a1a', borderWidth: 0.7, opacity: 1 },
      markLine: {
        silent: true, symbol: ['none', 'none'], label: { show: false },
        lineStyle: { color: '#444', width: 1.5, type: 'solid' },
        data: [{ yAxis: threshold }]
      }
    },
    {
      type: 'scatter',
      symbolSize: 0,
      silent: true,
      itemStyle: { opacity: 1 },
      data: hits.map(function (h) { return { value: [h.pos, h.y], gene: h.gene, snp: h.snp }; }),
      label: {
        show: true, position: 'right', distance: 0, opacity: 1,
        fontFamily: FONT, fontSize: 16, color: '#000', textBorderWidth: 0,
        formatter: function (p) { return '{g|' + p.data.gene + '} ' + p.data.snp; },
        rich: { g: { fontStyle: 'italic', fontFamily: FONT, fontSize: 16, color: '#000', textBorderWidth: 0 } }
      }
    }
  ]
};
chart.setOption(option);
</script>
</body>
</html>
